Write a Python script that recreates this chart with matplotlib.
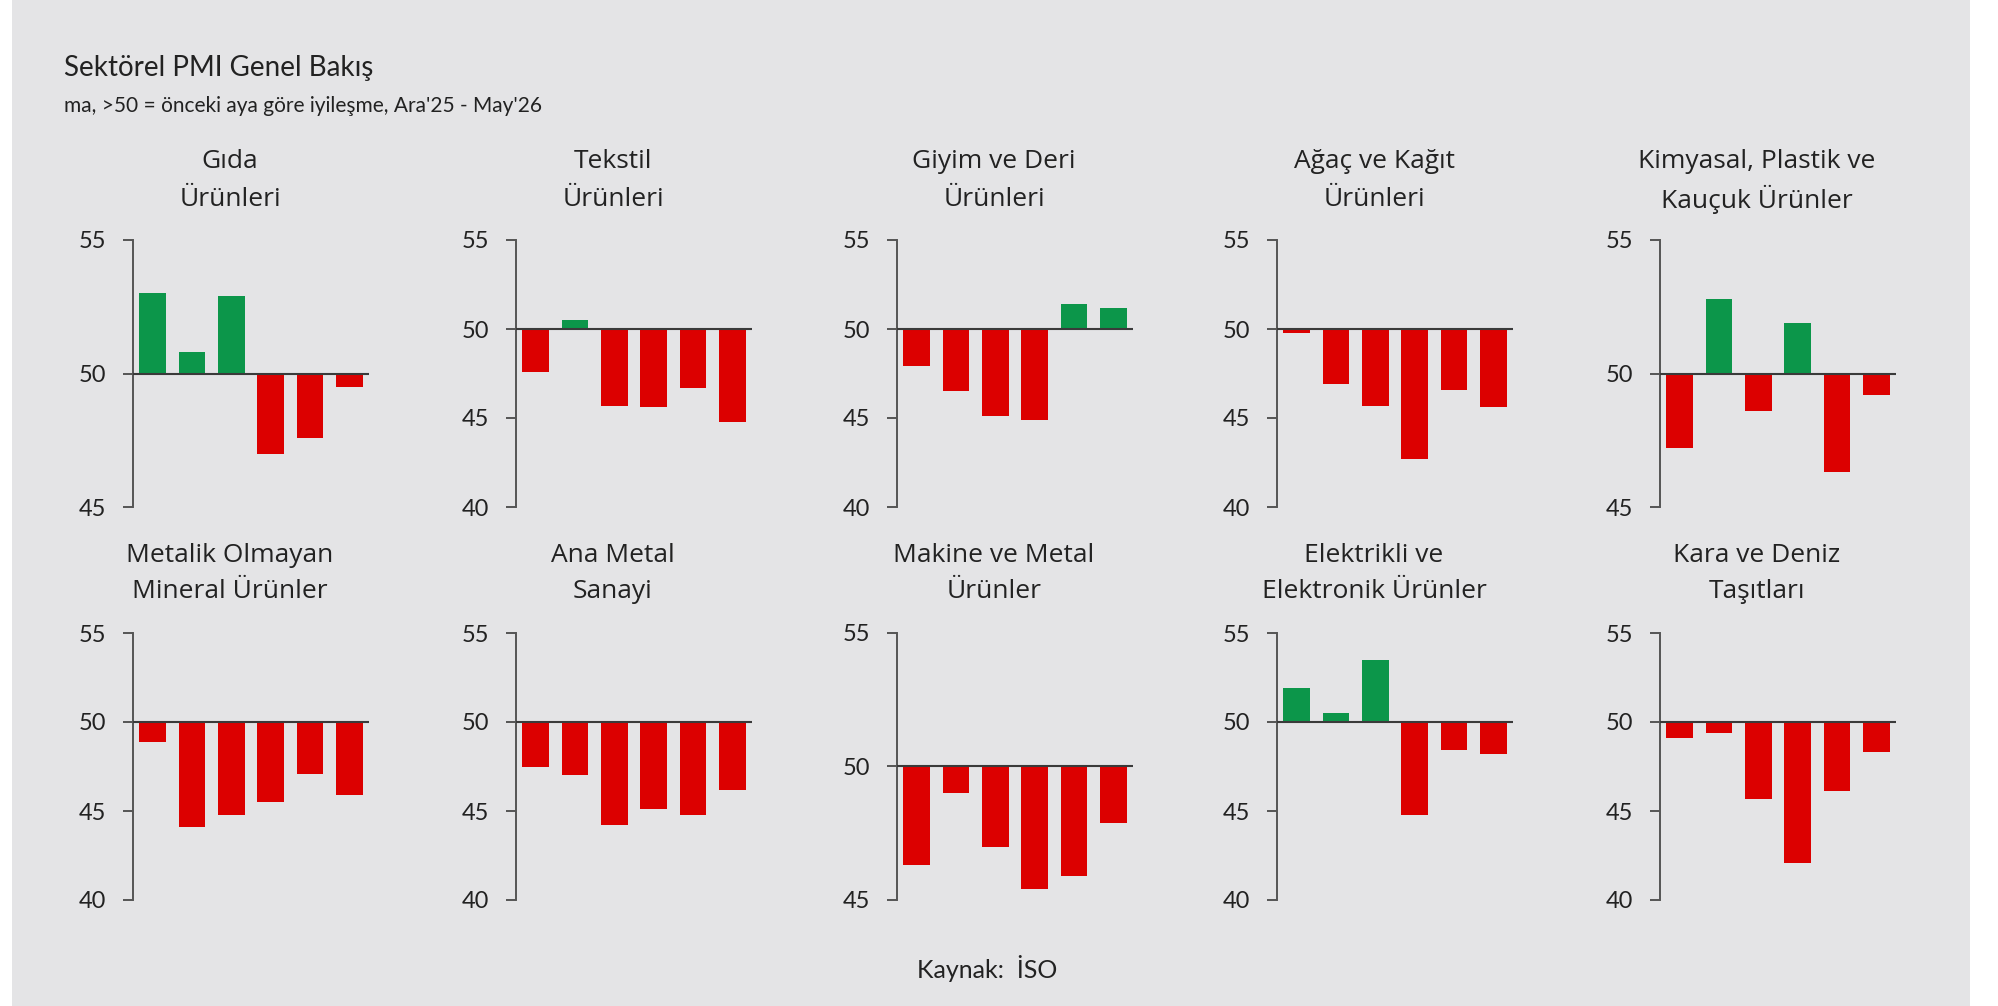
import numpy as np
import matplotlib.pyplot as plt
from matplotlib.patches import Rectangle

# Sektörel PMI değerleri, Ara'25 - May'26
aylar = ["Ara'25", "Oca'26", "Şub'26", "Mar'26", "Nis'26", "May'26"]

gida = [53.0, 50.8, 52.9, 47.0, 47.6, 49.5]
tekstil = [47.6, 50.5, 45.7, 45.6, 46.7, 44.8]
giyim = [47.9, 46.5, 45.1, 44.9, 51.4, 51.2]
agac = [49.8, 46.9, 45.7, 42.7, 46.6, 45.6]
kimya = [47.2, 52.8, 48.6, 51.9, 46.3, 49.2]
metalik = [48.9, 44.1, 44.8, 45.5, 47.1, 45.9]
ana_metal = [47.5, 47.0, 44.2, 45.1, 44.8, 46.2]
makine = [46.3, 49.0, 47.0, 45.4, 45.9, 47.9]
elektrik = [51.9, 50.5, 53.5, 44.8, 48.4, 48.2]
kara = [49.1, 49.4, 45.7, 42.1, 46.1, 48.3]

basliklar = [("Gıda", "Ürünleri"), ("Tekstil", "Ürünleri"), ("Giyim ve Deri", "Ürünleri"),
             ("Ağaç ve Kağıt", "Ürünleri"), ("Kimyasal, Plastik ve", "Kauçuk Ürünler"),
             ("Metalik Olmayan", "Mineral Ürünler"), ("Ana Metal", "Sanayi"),
             ("Makine ve Metal", "Ürünler"), ("Elektrikli ve", "Elektronik Ürünler"),
             ("Kara ve Deniz", "Taşıtları")]
seriler = [gida, tekstil, giyim, agac, kimya, metalik, ana_metal, makine, elektrik, kara]
alt_sinir = [45, 40, 40, 40, 45, 40, 40, 45, 40, 40]

YESIL = '#0c964a'
KIRMIZI = '#dc0000'
ARKA = '#e4e4e6'
YAZI = '#222222'

W, H = 1998, 1006
fig = plt.figure(figsize=(W / 100, H / 100), dpi=100)
fig.patch.set_facecolor('white')
fig.patches.append(Rectangle((12 / W, 0), (1970 - 12) / W, 1, transform=fig.transFigure,
                             facecolor=ARKA, edgecolor='none', zorder=-10))

fig.text(64 / W, 1 - 68 / H, "Sektörel PMI Genel Bakış", fontsize=20, family='Lato',
         color=YAZI, va='center', ha='left')
fig.text(64 / W, 1 - 106 / H, "ma, >50 = önceki aya göre iyileşme, Ara'25 - May'26",
         fontsize=15, family='Lato', color=YAZI, va='center', ha='left')

sol_x = [133, 516, 897, 1277, 1660]
ust_y = [240, 633]
gen, yuk = 236, 267
# her satırdaki iki başlık satırının dikey konumu (piksel)
baslik_y = [(162, 199), (555, 592)]

x = np.arange(len(aylar))
for i, (deger, baslik, alt) in enumerate(zip(seriler, basliklar, alt_sinir)):
    satir, sutun = divmod(i, 5)
    ax = fig.add_axes([sol_x[sutun] / W, 1 - (ust_y[satir] + yuk) / H, gen / W, yuk / H])
    ax.set_facecolor('none')
    d = np.array(deger)
    renk = [YESIL if v >= 50 else KIRMIZI for v in d]
    ax.bar(x, d - 50, bottom=50, width=0.68, color=renk, zorder=2)
    ax.axhline(50, color='#3a3a3a', lw=1.5, zorder=3)
    ax.set_xlim(-0.5, 5.5)
    ax.set_ylim(alt, 55)
    ax.set_yticks(np.arange(alt, 56, 5))
    ax.set_xticks([])
    for s in ['top', 'right', 'bottom']:
        ax.spines[s].set_visible(False)
    ax.spines['left'].set_color('#555555')
    ax.spines['left'].set_linewidth(1.4)
    ax.tick_params(axis='y', direction='out', length=7, width=1.4, color='#555555',
                   pad=12, labelsize=17, labelcolor=YAZI)
    for lbl in ax.get_yticklabels():
        lbl.set_family('Lato')
    xc = (sol_x[sutun] + gen / 2 - 21) / W
    for satir_metni, yy in zip(baslik, baslik_y[satir]):
        fig.text(xc, 1 - yy / H, satir_metni, ha='center', va='center', fontsize=19,
                 family='Open Sans', color=YAZI)

fig.text(987 / W, 1 - 968 / H, "Kaynak:  İSO", ha='center', va='center', fontsize=18,
         family='Lato', color=YAZI)

plt.savefig("out.png", dpi=100)
